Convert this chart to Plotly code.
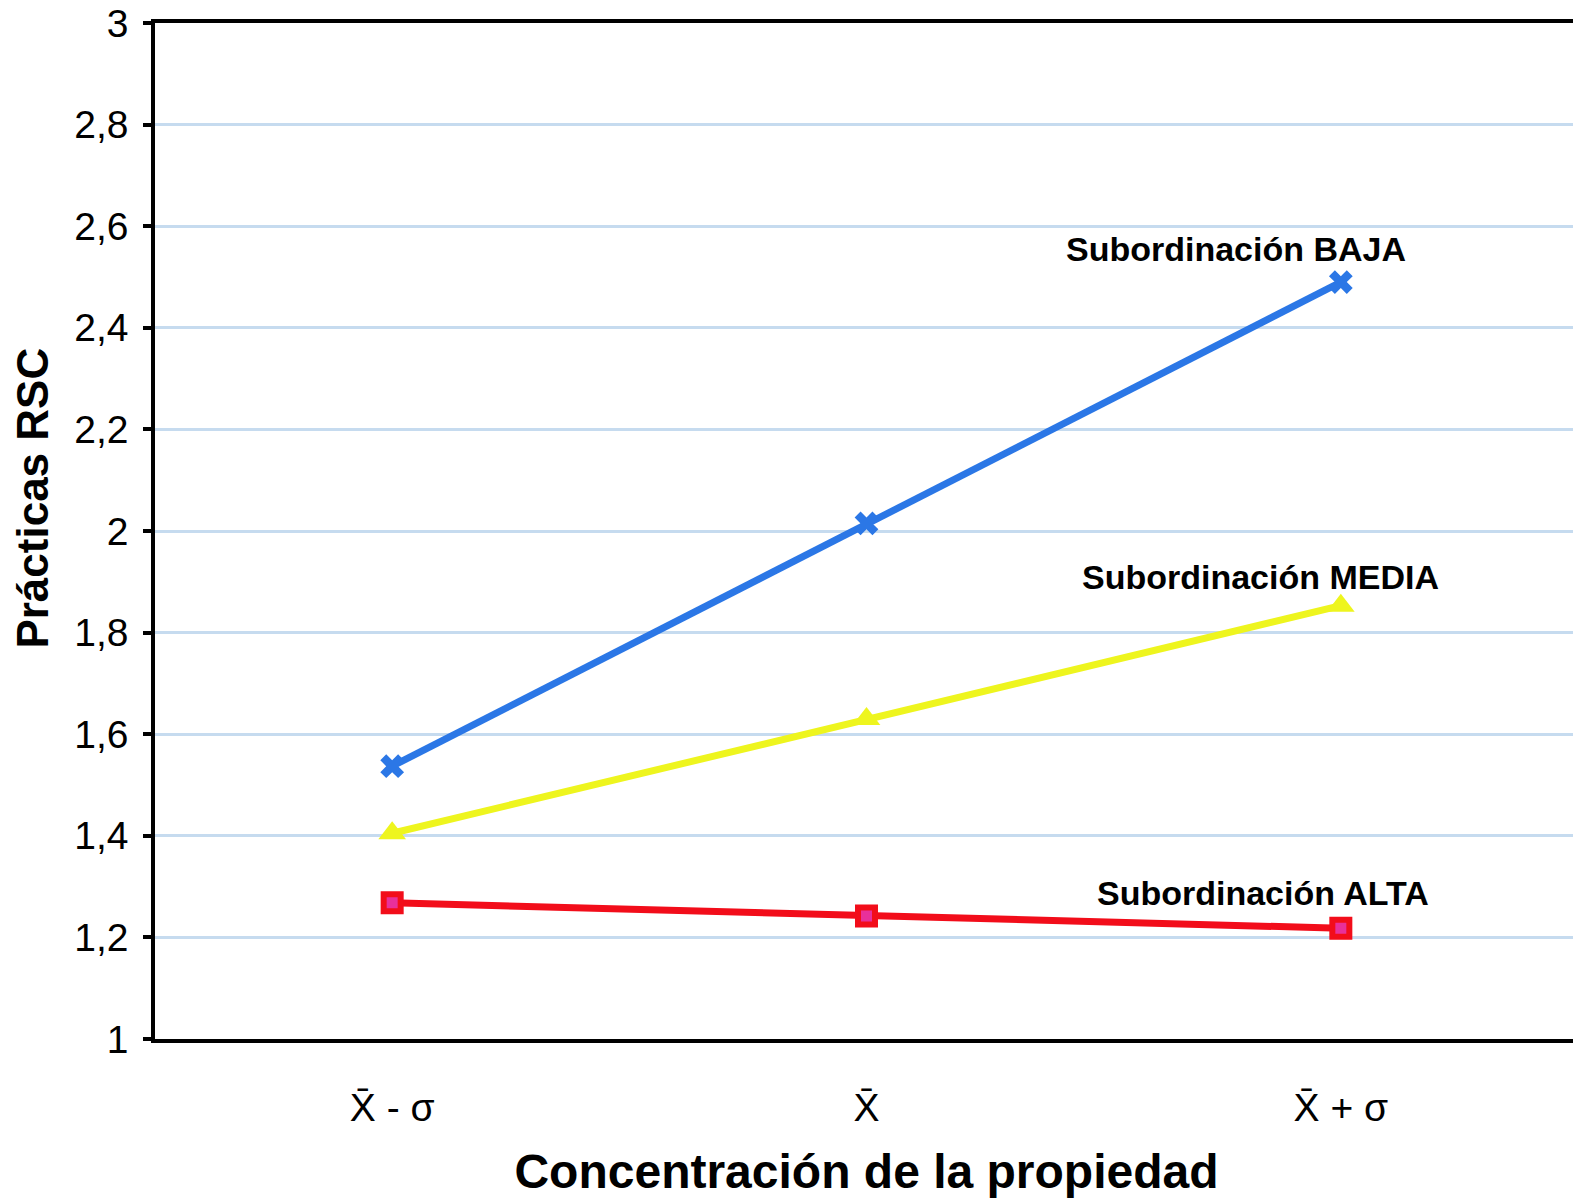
import plotly.graph_objects as go

categories = ["X̄ - σ", "X̄", "X̄ + σ"]
baja = [1.537, 2.015, 2.49]
media = [1.405, 1.63, 1.853]
alta = [1.268, 1.242, 1.218]
labels = ["Subordinación BAJA", "Subordinación MEDIA", "Subordinación ALTA"]
label_pos = [(1.78, 2.555), (1.83, 1.91), (1.835, 1.287)]
yticks = [1, 1.2, 1.4, 1.6, 1.8, 2, 2.2, 2.4, 2.6, 2.8, 3]
yticktext = ["1", "1,2", "1,4", "1,6", "1,8", "2", "2,2", "2,4", "2,6", "2,8", "3"]

fig = go.Figure()
fig.add_trace(go.Scatter(x=categories, y=alta, mode="lines+markers",
                         line=dict(color="#f20d1a", width=7),
                         marker=dict(symbol="square", size=17, color="#e8309a",
                                     line=dict(color="#f20d1a", width=6))))
fig.add_trace(go.Scatter(x=categories, y=media, mode="lines+markers",
                         line=dict(color="#eef51e", width=7),
                         marker=dict(symbol="triangle-up", size=24, color="#eef51e")))
fig.add_trace(go.Scatter(x=categories, y=baja, mode="lines+markers",
                         line=dict(color="#2b77e6", width=7),
                         marker=dict(symbol="x", size=21, color="#2b77e6")))

for t, (px, py) in zip(labels, label_pos):
    fig.add_annotation(x=px, y=py, xref="x", yref="y", text="<b>" + t + "</b>",
                       showarrow=False, font=dict(size=34, color="black",
                                                  family="Liberation Sans, Arial"))

fig.add_annotation(x=-122 / 1413, y=0.532, xref="paper", yref="paper",
                   text="<b>Prácticas RSC</b>", textangle=-90, showarrow=False,
                   xanchor="center", yanchor="middle", borderpad=0,
                   font=dict(size=44, color="black", family="Liberation Sans, Arial"))

fig.update_layout(
    width=1581, height=1202,
    margin=dict(l=147, r=11, t=15, b=171),
    paper_bgcolor="white", plot_bgcolor="white",
    showlegend=False,
    font=dict(family="Liberation Sans, Arial", color="black"),
    xaxis=dict(type="category", range=[-0.5, 2.5], automargin=False,
               showline=True, linecolor="black", linewidth=3.5, mirror=True,
               showgrid=False, ticks="", tickfont=dict(size=39),
               ticklabelstandoff=31,
               title=dict(text="<b>Concentración de la propiedad</b>",
                          font=dict(size=48), standoff=28)),
    yaxis=dict(range=[1, 3], tickvals=yticks, ticktext=yticktext, automargin=False,
               ticklabeloverflow="allow",
               showline=True, linecolor="black", linewidth=3.5, mirror=True,
               showgrid=True, gridcolor="#c6dbef", gridwidth=3,
               ticks="outside", ticklen=8, tickwidth=3.5, tickcolor="black",
               ticklabelstandoff=7,
               tickfont=dict(size=39)),
)

fig.write_html("out.html")
